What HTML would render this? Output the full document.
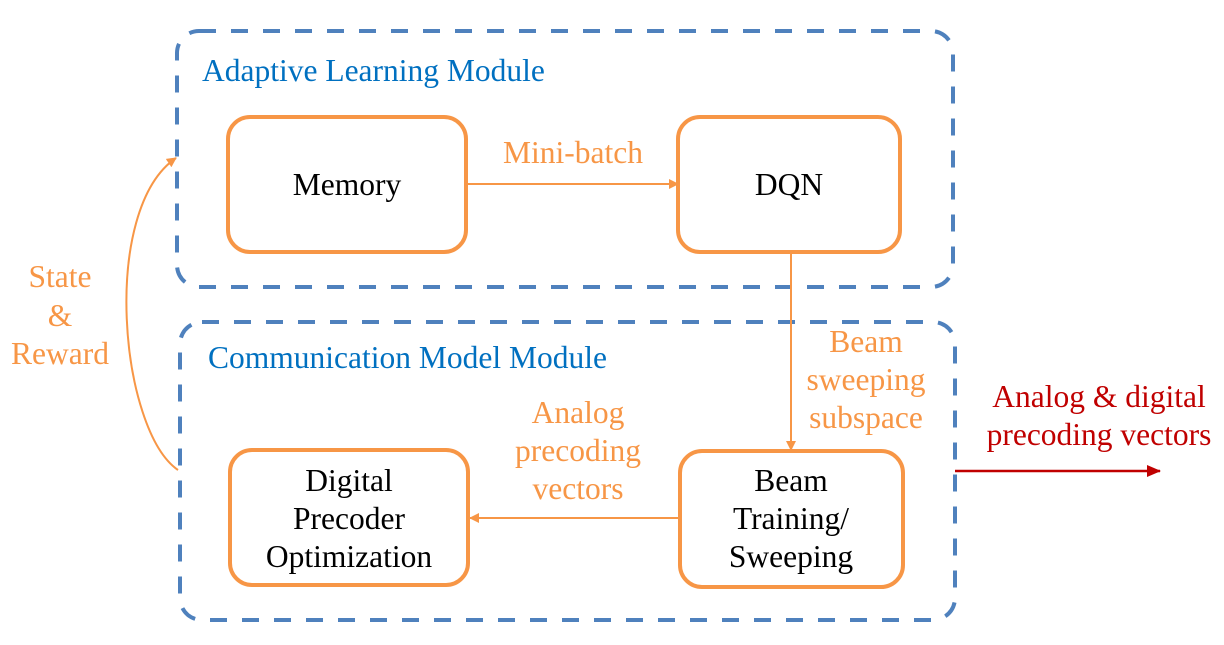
<!DOCTYPE html>
<html><head><style>body{margin:0;background:#fff}svg text{font-family:"Liberation Serif","Times New Roman",serif;font-size:31.5px}</style></head><body>
<svg width="1224" height="640" xmlns="http://www.w3.org/2000/svg">
<defs>
<marker id="o" markerWidth="10" markerHeight="10" refX="9" refY="5" orient="auto" markerUnits="userSpaceOnUse"><path d="M0,0L10,5L0,10z" fill="#f79646"/></marker>
<marker id="r" markerWidth="14" markerHeight="12" refX="13" refY="6" orient="auto" markerUnits="userSpaceOnUse"><path d="M0,0L14,6L0,12z" fill="#c00000"/></marker>
</defs>
<rect x="177" y="31" width="776" height="256" rx="22" fill="none" stroke="#4f81bd" stroke-width="4" stroke-dasharray="17 15"/>
<rect x="180" y="322" width="775" height="298" rx="22" fill="none" stroke="#4f81bd" stroke-width="4" stroke-dasharray="17 15"/>
<g fill="#fff" stroke="#f79646" stroke-width="4">
<rect x="228" y="117" width="238" height="135" rx="22"/>
<rect x="678" y="117" width="222" height="135" rx="22"/>
<rect x="230" y="450" width="238" height="135" rx="22"/>
<rect x="680" y="451" width="223" height="136" rx="22"/>
</g>
<g stroke="#f79646" stroke-width="2" fill="none">
<line x1="466" y1="184" x2="678" y2="184" marker-end="url(#o)"/>
<line x1="791" y1="252" x2="791" y2="450" marker-end="url(#o)"/>
<line x1="680" y1="518" x2="470" y2="518" marker-end="url(#o)"/>
<path d="M178,470 C120,430 100,210 176,158" marker-end="url(#o)"/>
</g>
<line x1="955" y1="471" x2="1160" y2="471" stroke="#c00000" stroke-width="2.5" marker-end="url(#r)"/>
<g fill="#0070c0">
<text x="202" y="81">Adaptive Learning Module</text>
<text x="208" y="368">Communication Model Module</text>
</g>
<g fill="#000" text-anchor="middle">
<text x="347" y="195">Memory</text>
<text x="789" y="195">DQN</text>
<text x="349" y="491">Digital</text>
<text x="349" y="529">Precoder</text>
<text x="349" y="567">Optimization</text>
<text x="791" y="491">Beam</text>
<text x="791" y="529">Training/</text>
<text x="791" y="567">Sweeping</text>
</g>
<g fill="#f79646" text-anchor="middle">
<text x="573" y="163">Mini-batch</text>
<text x="60" y="287">State</text>
<text x="60" y="326">&amp;</text>
<text x="60" y="364">Reward</text>
<text x="866" y="352">Beam</text>
<text x="866" y="390">sweeping</text>
<text x="866" y="428">subspace</text>
<text x="578" y="423">Analog</text>
<text x="578" y="461">precoding</text>
<text x="578" y="499">vectors</text>
</g>
<g fill="#c00000" text-anchor="middle">
<text x="1099" y="407">Analog &amp; digital</text>
<text x="1099" y="445">precoding vectors</text>
</g>
</svg>
</body></html>
